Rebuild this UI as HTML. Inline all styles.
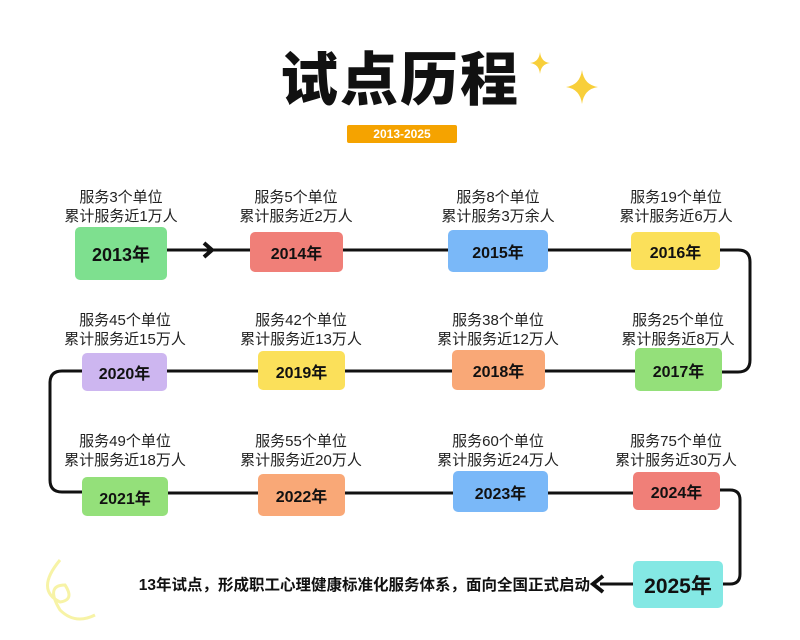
<!DOCTYPE html>
<html><head><meta charset="utf-8"><style>
body{margin:0;width:800px;height:640px;background:#fff;position:relative;overflow:hidden;font-family:"Liberation Sans","Noto Sans CJK SC",sans-serif}
.b{position:absolute;border-radius:5px;display:flex;align-items:center;justify-content:center;font-weight:bold;font-size:16px;color:#111}
.c{position:absolute;width:160px;text-align:center;font-size:15px;line-height:19px;color:#222}
svg{position:absolute;left:0;top:0}
</style></head><body>
<svg width="800" height="640">
<g fill="none" stroke="#111" stroke-width="3">
<path d="M167 250H720"/>
<path d="M720 250H738Q750 250 750 262V360Q750 372 738 372H722"/>
<path d="M635 371H82H62Q50 371 50 383V480Q50 492 62 492H82"/>
<path d="M168 493H633"/>
<path d="M720 490H730Q740 490 740 500V574Q740 584 730 584H722"/>
<path d="M600 584H633"/>
</g>
<path d="M204 243L212 250L204 257" fill="none" stroke="#111" stroke-width="4"/>
<path d="M603 576L593 584L603 592" fill="none" stroke="#111" stroke-width="4"/>
<path d="M540 52Q541 62 550 63Q541 64 540 74Q539 64 530 63Q539 62 540 52Z" fill="#f8cf3a"/>
<path d="M582 70Q584 85 598 87Q584 89 582 104Q580 89 566 87Q580 85 582 70Z" fill="#f8cf3a"/>
<path d="M60 560Q35 590 60 602Q75 600 65 585Q45 585 60 610Q75 625 95 615" fill="none" stroke="#f7f3a6" stroke-width="3"/>
</svg>
<div style="position:absolute;left:270px;top:33px;width:260px;text-align:center;font-size:58px;font-weight:900;color:#111;letter-spacing:2px">试点历程</div>
<div style="position:absolute;left:347px;top:125px;width:110px;height:18px;background:#f5a300;border-radius:2px;color:#fff;font-size:12px;font-weight:bold;text-align:center;line-height:18px">2013-2025</div>

<div class="c" style="left:41px;top:188px">服务3个单位<br>累计服务近1万人</div>
<div class="c" style="left:216px;top:188px">服务5个单位<br>累计服务近2万人</div>
<div class="c" style="left:418px;top:188px">服务8个单位<br>累计服务3万余人</div>
<div class="c" style="left:596px;top:188px">服务19个单位<br>累计服务近6万人</div>
<div class="c" style="left:45px;top:311px">服务45个单位<br>累计服务近15万人</div>
<div class="c" style="left:221px;top:311px">服务42个单位<br>累计服务近13万人</div>
<div class="c" style="left:418px;top:311px">服务38个单位<br>累计服务近12万人</div>
<div class="c" style="left:598px;top:311px">服务25个单位<br>累计服务近8万人</div>
<div class="c" style="left:45px;top:432px">服务49个单位<br>累计服务近18万人</div>
<div class="c" style="left:221px;top:432px">服务55个单位<br>累计服务近20万人</div>
<div class="c" style="left:418px;top:432px">服务60个单位<br>累计服务近24万人</div>
<div class="c" style="left:596px;top:432px">服务75个单位<br>累计服务近30万人</div>

<div class="b" style="left:75px;top:227px;width:92px;height:53px;background:#7ee08f;font-size:18px">2013年</div>
<div class="b" style="left:250px;top:232px;width:93px;height:40px;background:#f07f78">2014年</div>
<div class="b" style="left:448px;top:230px;width:100px;height:42px;background:#7ab8f8">2015年</div>
<div class="b" style="left:631px;top:232px;width:89px;height:38px;background:#fbe05a">2016年</div>
<div class="b" style="left:635px;top:348px;width:87px;height:43px;background:#94e07a">2017年</div>
<div class="b" style="left:452px;top:350px;width:93px;height:40px;background:#f9a877">2018年</div>
<div class="b" style="left:258px;top:351px;width:87px;height:39px;background:#fbe05a">2019年</div>
<div class="b" style="left:82px;top:353px;width:85px;height:38px;background:#cdb6f0">2020年</div>
<div class="b" style="left:82px;top:477px;width:86px;height:39px;background:#94e07a">2021年</div>
<div class="b" style="left:258px;top:474px;width:87px;height:42px;background:#f9a877">2022年</div>
<div class="b" style="left:453px;top:471px;width:95px;height:41px;background:#7ab8f8">2023年</div>
<div class="b" style="left:633px;top:472px;width:87px;height:38px;background:#f07f78">2024年</div>
<div class="b" style="left:633px;top:561px;width:90px;height:47px;background:#84e8e4;font-size:21px">2025年</div>
<div style="position:absolute;left:110px;top:573px;width:480px;text-align:right;font-size:15.5px;font-weight:bold;color:#111;white-space:nowrap">13年试点，形成职工心理健康标准化服务体系，面向全国正式启动</div>
</body></html>
